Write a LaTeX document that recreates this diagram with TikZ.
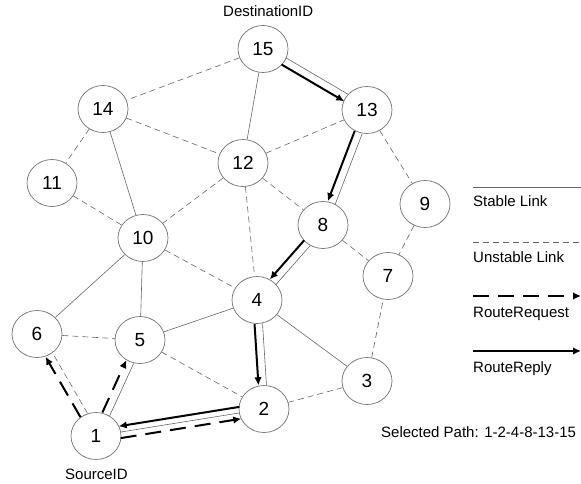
\documentclass[tikz,border=0pt]{standalone}
\usepackage{fontspec}
\setmainfont{Liberation Sans}
\usetikzlibrary{arrows.meta,calc,shapes.geometric}

\tikzset{
	station/.style = {draw=gray!90!black, line width=0.7pt, ellipse, minimum width=50pt, minimum height=47pt, inner sep=0pt, fill=white, font=\fontsize{19}{19}\selectfont},
	stable/.style = {draw=gray!80!black, line width=0.6pt},
	unstable/.style = {stable, dash pattern=on 6pt off 4pt},
	request/.style = {line width=2pt, dash pattern=on 16pt off 9pt, -{Latex[length=8pt,width=7.5pt]}},
	reply/.style = {line width=2pt, -{Latex[length=8pt,width=7.5pt]}},
	side/.style = {to path={($(\tikztostart)!#1!90:(\tikztotarget)$) -- ($(\tikztotarget)!#1!-90:(\tikztostart)$) \tikztonodes}, shorten <=24pt, shorten >=24pt},
	caption/.style = {font=\fontsize{15}{15}\selectfont, anchor=base west, inner sep=0pt}
}

\begin{document}
\begin{tikzpicture}[x=1pt, y=-1pt]
	\useasboundingbox (0,0) rectangle (581,484);
	% stations
	\node[station] (n1) at (96,436) {1};
	\node[station] (n2) at (264,409) {2};
	\node[station] (n3) at (367,381) {3};
	\node[station] (n4) at (257,300) {4};
	\node[station] (n5) at (140,340) {5};
	\node[station] (n6) at (37,334) {6};
	\node[station] (n7) at (388,276) {7};
	\node[station] (n8) at (323,225) {8};
	\node[station] (n9) at (425,204) {9};
	\node[station] (n10) at (143,238) {10};
	\node[station] (n11) at (52,183) {11};
	\node[station] (n12) at (243,163) {12};
	\node[station] (n13) at (367,110) {13};
	\node[station] (n14) at (103,109) {14};
	\node[station] (n15) at (263,49) {15};
	\node[caption] (dest) at (223,17) {DestinationID};
	\node[caption] (src) at (65,479) {SourceID};
	
	% stable links
	\draw[stable] (n15) -- (n12);
	\draw[stable] (n14) -- (n10);
	\draw[stable] (n10) -- (n6);
	\draw[stable] (n10) -- (n5);
	\draw[stable] (n5) -- (n4);
	\draw[stable] (n4) -- (n3);
	\draw[stable] (n1) -- (n2);
	
	% unstable links
	\draw[unstable] (n15) -- (n14);
	\draw[unstable] (n14) -- (n12);
	\draw[unstable] (n14) -- (n11);
	\draw[unstable] (n11) -- (n10);
	\draw[unstable] (n12) -- (n10);
	\draw[unstable] (n12) -- (n13);
	\draw[unstable] (n12) -- (n4);
	\draw[unstable] (n12) -- (n8);
	\draw[unstable] (n13) -- (n9);
	\draw[unstable] (n9) -- (n7);
	\draw[unstable] (n8) -- (n7);
	\draw[unstable] (n10) -- (n4);
	\draw[unstable] (n6) -- (n5);
	\draw[unstable] (n5) -- (n2);
	\draw[unstable] (n2) -- (n3);
	\draw[unstable] (n3) -- (n7);
	
	% route request
	\draw[stable, side=-4pt] (n1) to (n5);
	\draw[unstable, side=-4pt] (n1) to (n6);
	\draw[request, side=4pt] (n1) to (n5);
	\draw[request, side=4pt] (n1) to (n6);
	\draw[request, side=-6pt] (n1) to (n2);
	
	% route reply
	\draw[stable, side=4pt] (n15) to (n13);
	\draw[stable, side=4pt] (n13) to (n8);
	\draw[stable, side=4pt] (n8) to (n4);
	\draw[stable, side=4pt] (n4) to (n2);
	\draw[reply, side=-4pt] (n15) to (n13);
	\draw[reply, side=-4pt] (n13) to (n8);
	\draw[reply, side=-4pt] (n8) to (n4);
	\draw[reply, side=-4pt] (n4) to (n2);
	\draw[reply, side=-6pt] (n2) to (n1);
	
	% legend
	\coordinate (k1) at (473,187); \coordinate (k2) at (581,187);
	\coordinate (k3) at (473,242); \coordinate (k4) at (581,242);
	\coordinate (k5) at (473,296); \coordinate (k6) at (581,296);
	\coordinate (k7) at (473,351); \coordinate (k8) at (581,351);
	\draw[stable] (k1) -- (k2);
	\draw[unstable] (k3) -- (k4);
	\draw[request] (k5) -- (k6);
	\draw[reply] (k7) -- (k8);
	\node[caption] (stabletext) at (473,206) {Stable Link};
	\node[caption] (unstabletext) at (473,262) {Unstable Link};
	\node[caption] (requesttext) at (473,317) {RouteRequest};
	\node[caption] (replytext) at (473,372) {RouteReply};
	\node[caption] (pathtext) at (381,437) {Selected Path: 1-2-4-8-13-15};
\end{tikzpicture}
\end{document}
